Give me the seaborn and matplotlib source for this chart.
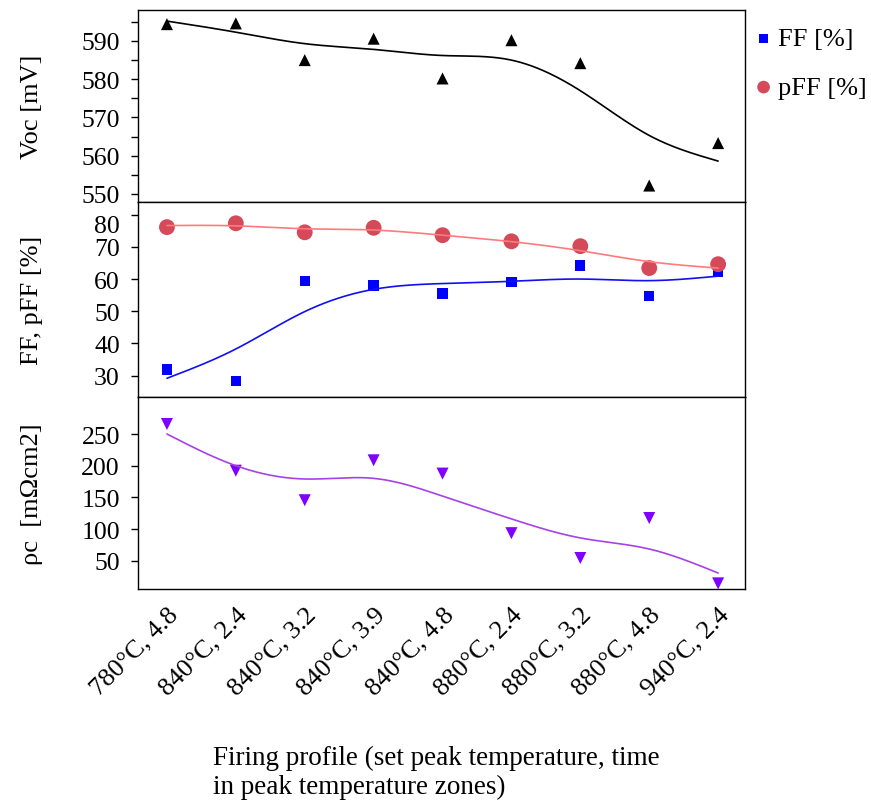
import numpy as np
import pandas as pd
import matplotlib
matplotlib.use("Agg")
import matplotlib.pyplot as plt
import matplotlib.transforms as mtransforms
import seaborn as sns

# ---------------- data ----------------
profiles = ["780°C, 4.8", "840°C, 2.4", "840°C, 3.2", "840°C, 3.9", "840°C, 4.8",
            "880°C, 2.4", "880°C, 3.2", "880°C, 4.8", "940°C, 2.4"]
voc = [594.4, 594.6, 585.0, 590.6, 580.2, 590.2, 584.2, 552.2, 563.3]
voc_fit = [595.2, 592.3, 589.3, 587.8, 586.2, 585.0, 577.0, 565.3, 558.6]
ff = [31.9, 28.4, 59.3, 58.0, 55.5, 59.1, 64.2, 54.8, 62.3]
ff_fit = [29.2, 38.3, 49.9, 56.8, 58.6, 59.3, 60.0, 59.5, 60.9]
pff = [76.1, 77.3, 74.5, 75.9, 73.6, 71.7, 70.2, 63.4, 64.6]
pff_fit = [76.6, 76.5, 75.6, 75.2, 73.6, 71.6, 68.8, 65.4, 63.4]
rho = [265.8, 192.1, 145.5, 208.5, 187.5, 93.5, 54.3, 117.4, 14.3]
rho_fit = [250.0, 200.0, 179.0, 180.0, 152.0, 116.0, 86.0, 68.5, 30.6]

voc_ticks = [550, 560, 570, 580, 590]
ff_ticks = [30, 40, 50, 60, 70, 80]
rho_ticks = [50, 100, 150, 200, 250]


def smooth(yvals, n=300):
    """Natural cubic spline through the fit values (rendering only)."""
    y = np.asarray(yvals, float)
    x = np.arange(len(y), dtype=float)
    m = len(x)
    h = np.diff(x)
    A = np.zeros((m, m))
    r = np.zeros(m)
    A[0, 0] = A[-1, -1] = 1
    for i in range(1, m - 1):
        A[i, i - 1] = h[i - 1]
        A[i, i] = 2 * (h[i - 1] + h[i])
        A[i, i + 1] = h[i]
        r[i] = 6 * ((y[i + 1] - y[i]) / h[i] - (y[i] - y[i - 1]) / h[i - 1])
    M = np.linalg.solve(A, r)
    xs = np.linspace(x[0], x[-1], n)
    k = np.clip(np.searchsorted(x, xs) - 1, 0, m - 2)
    t = xs - x[k]
    hk = h[k]
    ys = (M[k] * (x[k + 1] - xs) ** 3 / (6 * hk) + M[k + 1] * t ** 3 / (6 * hk)
          + (y[k] / hk - M[k] * hk / 6) * (x[k + 1] - xs)
          + (y[k + 1] / hk - M[k + 1] * hk / 6) * t)
    return xs, ys


sns.set_style("ticks")
plt.rcParams["font.family"] = ["Liberation Serif", "DejaVu Serif"]
for key in ("text.color", "axes.labelcolor", "xtick.color", "ytick.color",
            "axes.edgecolor"):
    plt.rcParams[key] = "black"

W, H = 871, 804
fig = plt.figure(figsize=(W / 100, H / 100), dpi=100)

L, R = 138, 745


def add(top, bot):
    return fig.add_axes([L / W, 1 - bot / H, (R - L) / W, (bot - top) / H])


ax1 = add(11, 203)
ax2 = add(203, 398)
ax3 = add(398, 590)

xi = np.arange(len(profiles))
df = pd.DataFrame({"x": xi, "voc": voc, "ff": ff, "pff": pff, "rho": rho})

# top: Voc
xs, ys = smooth(voc_fit)
sns.lineplot(x=xs, y=ys, ax=ax1, color="black", lw=1.2)
sns.scatterplot(data=df, x="x", y="voc", ax=ax1, marker="^", s=75, color="black",
                edgecolor="none")
ax1.set_ylim(547.9, 598.1)
ax1.set_yticks(voc_ticks)
ax1.set_yticks(np.arange(550, 600, 5), minor=True)
ax1.set_ylabel("Voc [mV]", fontsize=19)

# middle: FF, pFF
xs, ys = smooth(pff_fit)
sns.lineplot(x=xs, y=ys, ax=ax2, color="#ff7b7b", lw=1.2)
xs, ys = smooth(ff_fit)
sns.lineplot(x=xs, y=ys, ax=ax2, color="#1010f0", lw=1.2)
sns.scatterplot(data=df, x="x", y="ff", ax=ax2, marker="s", s=55, color="#0000ff",
                edgecolor="none", label="FF [%]")
sns.scatterplot(data=df, x="x", y="pff", ax=ax2, marker="o", s=130, color="#d44a59",
                edgecolor="none", label="pFF [%]")
ax2.set_ylim(23.4, 83.9)
ax2.set_yticks(ff_ticks)
ax2.set_ylabel("FF, pFF [%]", fontsize=19)
handles, labels = ax2.get_legend_handles_labels()
ax2.get_legend().remove()

# bottom: rho_c
xs, ys = smooth(rho_fit)
sns.lineplot(x=xs, y=ys, ax=ax3, color="#a542e8", lw=1.2)
sns.scatterplot(data=df, x="x", y="rho", ax=ax3, marker="v", s=75, color="#8000ff",
                edgecolor="none")
ax3.set_ylim(5.4, 308.4)
ax3.set_yticks(rho_ticks)
ax3.set_ylabel("ρc  [mΩcm2]", fontsize=19)

for ax in (ax1, ax2, ax3):
    ax.set_xlim(-0.42, 8.39)
    ax.set_xlabel("")
    for s in ax.spines.values():
        s.set_visible(True)
        s.set_linewidth(1.0)
        s.set_color("black")
    ax.tick_params(axis="y", which="both", direction="out", length=5, width=1,
                   labelsize=18.5, pad=8, colors="black")
    ax.tick_params(axis="x", length=0)
    ax.yaxis.set_label_coords((43 - L) / (R - L), 0.5)

ax1.set_xticks(xi)
ax1.set_xticklabels([])
ax2.set_xticks(xi)
ax2.set_xticklabels([])
ax3.set_xticks(xi)
ax3.set_xticklabels(profiles, rotation=45, ha="right", rotation_mode="anchor",
                    fontsize=19)
ax3.tick_params(axis="x", pad=10)

# nudge the "80" label down as in the reference
lab80 = ax2.yaxis.get_major_ticks()[-1].label1
lab80.set_transform(lab80.get_transform() +
                    mtransforms.ScaledTranslation(0, -0.09, fig.dpi_scale_trans))

fig.text(436 / W, 1 - 773 / H,
         "Firing profile (set peak temperature, time\nin peak temperature zones)",
         ha="center", va="center", multialignment="left", fontsize=19.5,
         linespacing=1.17)

fig.legend(handles, labels, loc="upper left", bbox_to_anchor=(757 / W, 1 - 28 / H),
           frameon=False, fontsize=19, handlelength=0.5, handletextpad=0.3,
           labelspacing=0.95, borderaxespad=0, borderpad=0, markerscale=0.8)

fig.savefig("out.png", dpi=100)
